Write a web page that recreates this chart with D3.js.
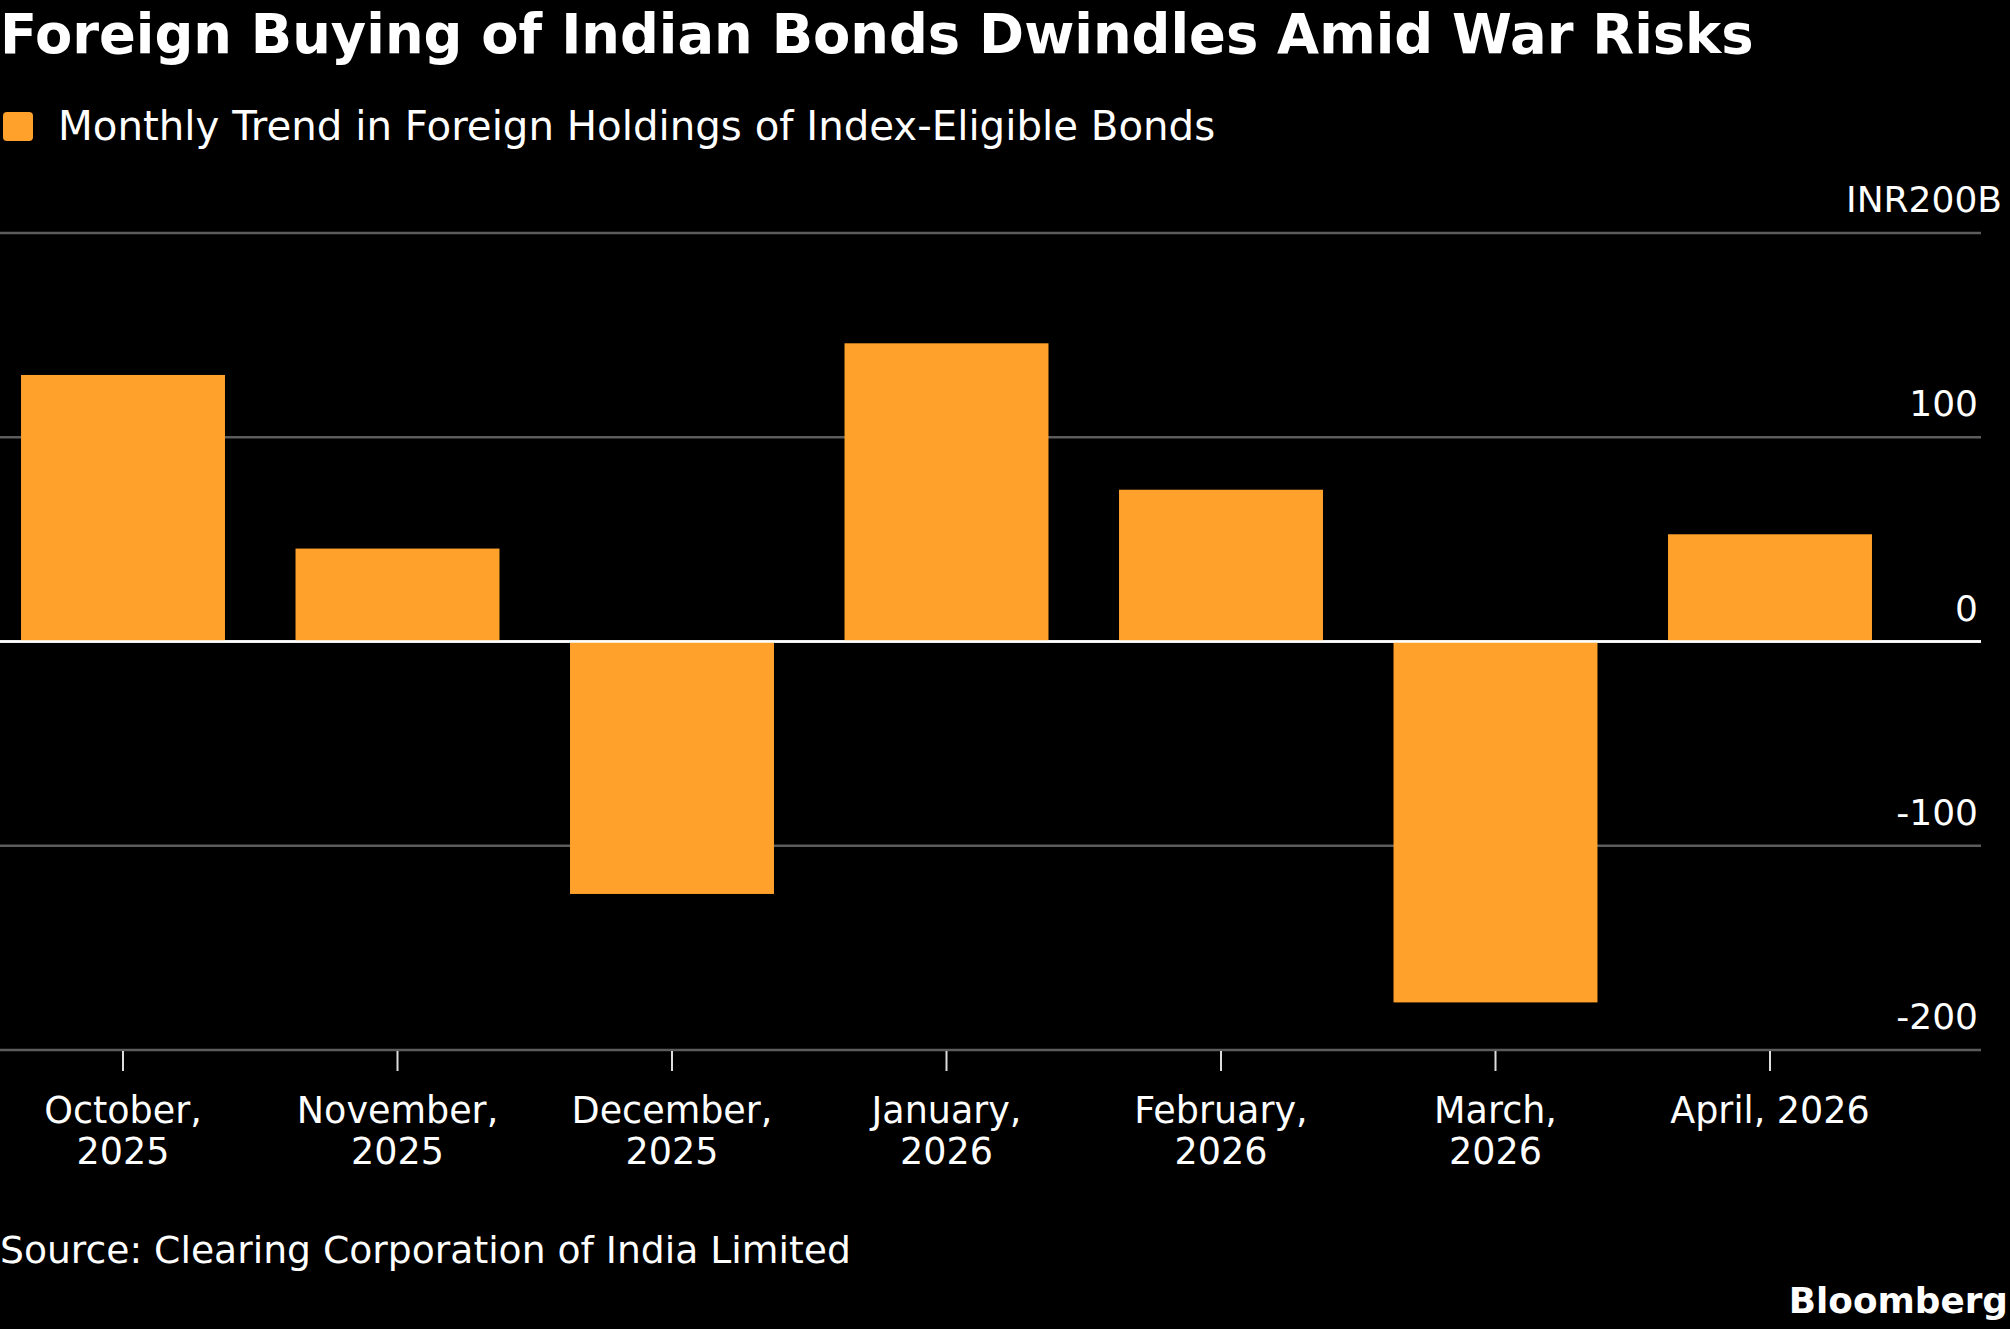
<!DOCTYPE html>
<html>

<head>
    <meta charset="UTF-8">
    <title>Foreign Buying of Indian Bonds</title>
    <script src="https://d3js.org/d3.v7.min.js"></script>
    <style>
        body { margin: 0; background: #000; }
        text { font-family: "DejaVu Sans", sans-serif; fill: #fff; }
    </style>
</head>

<body>
    <script>
        // months on the x axis, each label split over two lines
        const months = ["October, 2025", "November, 2025", "December, 2025", "January, 2026",
            "February, 2026", "March, 2026", "April, 2026"];
        const monthLines = [["October,", "2025"], ["November,", "2025"], ["December,", "2025"],
            ["January,", "2026"], ["February,", "2026"], ["March,", "2026"], ["April, 2026"]];
        // INR billions
        const holdings = [130.5, 45.5, -123.6, 146, 74.3, -176.7, 52.5];
        const yTicks = [-200, -100, 0, 100, 200];

        const width = 2010, height = 1329;
        const orange = "#ffa12b";

        const svg = d3.select("body").append("svg")
            .attr("width", width).attr("height", height)
            .style("background", "#000");

        const x = d3.scalePoint()
            .domain(months)
            .range([123, 1770]);
        const barWidth = x.step() * 0.743;

        const y = d3.scaleLinear()
            .domain([-200, 200])
            .range([1050, 233]);

        // title + legend
        svg.append("text")
            .attr("x", 0).attr("y", 53)
            .style("font-size", "54.3px").style("font-weight", "bold")
            .text("Foreign Buying of Indian Bonds Dwindles Amid War Risks");

        svg.append("rect")
            .attr("x", 3).attr("y", 112).attr("width", 30).attr("height", 29)
            .attr("rx", 4).attr("fill", orange);
        svg.append("text")
            .attr("x", 58).attr("y", 140)
            .style("font-size", "40.3px")
            .text("Monthly Trend in Foreign Holdings of Index-Eligible Bonds");

        // gridlines
        svg.append("g").selectAll("line")
            .data(yTicks).enter().append("line")
            .attr("x1", 0).attr("x2", 1981)
            .attr("y1", d => y(d)).attr("y2", d => y(d))
            .attr("stroke", d => d === 0 ? "#fff" : "#5c5c5c")
            .attr("stroke-width", 2.5);

        // y labels sit above their gridline, right aligned
        svg.append("g").selectAll("text")
            .data(yTicks).enter().append("text")
            .attr("x", d => d === 200 ? 2002 : 1978)
            .attr("y", d => y(d) - 21)
            .attr("text-anchor", "end")
            .style("font-size", "36px")
            .text(d => d === 200 ? "INR200B" : d);

        // bars
        svg.append("g").selectAll("rect")
            .data(holdings).enter().append("rect")
            .attr("x", (d, i) => x(months[i]) - barWidth / 2)
            .attr("width", barWidth)
            .attr("y", d => y(Math.max(0, d)))
            .attr("height", d => Math.abs(y(d) - y(0)))
            .attr("fill", orange);

        // zero line back on top of the bars
        svg.append("line")
            .attr("x1", 0).attr("x2", 1981)
            .attr("y1", y(0)).attr("y2", y(0))
            .attr("stroke", "#fff").attr("stroke-width", 2.5);

        // x ticks and labels
        const xAxis = svg.append("g");
        xAxis.selectAll("line")
            .data(months).enter().append("line")
            .attr("x1", d => x(d)).attr("x2", d => x(d))
            .attr("y1", y(-200) + 1).attr("y2", y(-200) + 21)
            .attr("stroke", "#ddd").attr("stroke-width", 2);

        xAxis.selectAll("text")
            .data(monthLines).enter().append("text")
            .attr("text-anchor", "middle")
            .style("font-size", "36.5px")
            .each(function (lines, i) {
                d3.select(this).selectAll("tspan")
                    .data(lines).enter().append("tspan")
                    .attr("x", x(months[i]))
                    .attr("y", (l, j) => 1123 + j * 41)
                    .text(l => l);
            });

        // footer
        svg.append("text")
            .attr("x", 0).attr("y", 1263)
            .style("font-size", "37.7px")
            .text("Source: Clearing Corporation of India Limited");

        svg.append("text")
            .attr("x", 2008).attr("y", 1313)
            .attr("text-anchor", "end")
            .style("font-size", "35.8px").style("font-weight", "bold")
            .text("Bloomberg");
    </script>
</body>

</html>
